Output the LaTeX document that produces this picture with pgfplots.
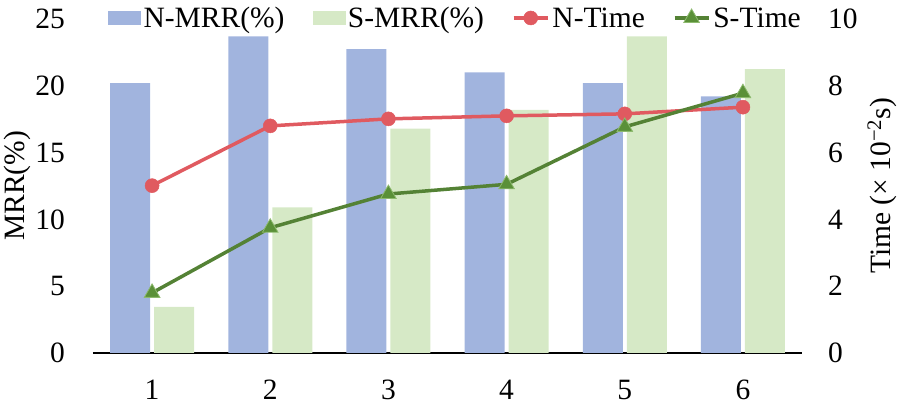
\documentclass[border=0pt]{standalone}
\usepackage{fontspec}
\setmainfont{Liberation Serif}
\usepackage{pgfplots}
\pgfplotsset{compat=1.18}
\definecolor{nblue}{HTML}{A1B4DE}
\definecolor{sgreen}{HTML}{D6E9C6}
\definecolor{nred}{HTML}{E05A60}
\definecolor{sdark}{HTML}{548235}
\definecolor{strifill}{HTML}{5A9038}
\definecolor{stridraw}{HTML}{8DBA6E}
\newcommand\fsz{\fontsize{29.5bp}{33bp}\selectfont}
\pgfplotsset{
  linelegend/.style={legend image code/.code={\draw[mark repeat=2,mark phase=2,##1] plot coordinates {(0bp,0bp) (17bp,0bp) (34bp,0bp)};}},
  barlegend/.style={legend image code/.code={\fill[#1] (0bp,-6.5bp) rectangle (32bp,6.5bp);}},
}
\begin{document}
\begin{tikzpicture}
\pgfplotsset{
  every axis/.append style={
    scale only axis, width=709bp, height=334bp,
    at={(0,0)}, anchor=south west,
    xmin=0.5, xmax=6.5,
    /pgf/number format/assume math mode=true,
    tick label style={font=\fsz, inner sep=0pt},
    label style={font=\fsz},
    major tick length=0pt, minor tick length=0pt,
  }
}
\begin{axis}[
  ymin=0, ymax=25, ytick={0,5,...,25},
  xtick={1,...,6},
  axis x line=bottom, axis y line=left,
  x axis line style={-, line width=2.8bp, black},
  y axis line style={draw=none},
  xticklabel shift=27bp,
  yticklabel shift=28bp,
  ylabel={MRR(\%)},
  ylabel style={at={(axis description cs:-0.1072,0.5)}, anchor=center},
  ybar, bar width=40bp,
]
\addplot[draw=none, fill=nblue, bar shift=-22bp] coordinates {(1,20.2) (2,23.7) (3,22.75) (4,21.0) (5,20.2) (6,19.2)};
\addplot[draw=none, fill=sgreen, bar shift=22bp] coordinates {(1,3.45) (2,10.9) (3,16.8) (4,18.2) (5,23.7) (6,21.25)};
\end{axis}
\begin{axis}[
  ymin=0, ymax=10, ytick={0,2,...,10},
  hide x axis,
  axis y line*=right,
  y axis line style={draw=none},
  yticklabel shift=26bp,
  ylabel={Time (× 10\textsuperscript{−2}s)},
  ylabel style={at={(axis description cs:1.1128,0.5)}, anchor=center},
  legend columns=4,
  legend style={draw=none, fill=none, inner sep=0pt, font=\fsz,
    at={(axis description cs:0.0212,1.003)}, anchor=west,
    /tikz/every odd column/.append style={column sep=3bp},
    /tikz/every even column/.append style={column sep=28bp},
    nodes={inner sep=0pt}},
]
\addlegendimage{barlegend=nblue}
\addlegendentry{N-MRR(\%)}
\addlegendimage{barlegend=sgreen}
\addlegendentry{S-MRR(\%)}
\addplot[linelegend, color=nred, line width=3.5bp, mark=*, mark size=7bp, mark options={fill=nred, draw=nred, line width=0.5bp}]
  coordinates {(1,5.01) (2,6.8) (3,7.01) (4,7.1) (5,7.16) (6,7.36)};
\addlegendentry{N-Time}
\addplot[linelegend, color=sdark, line width=3.5bp, mark=triangle*, mark size=9bp, mark options={fill=strifill, draw=stridraw, line width=0.8bp}]
  coordinates {(1,1.8) (2,3.75) (3,4.76) (4,5.05) (5,6.77) (6,7.78)};
\addlegendentry{S-Time}
\end{axis}
\pgfresetboundingbox
\path[use as bounding box] (-93bp,-57bp) rectangle (818bp,353bp);
\end{tikzpicture}
\end{document}
